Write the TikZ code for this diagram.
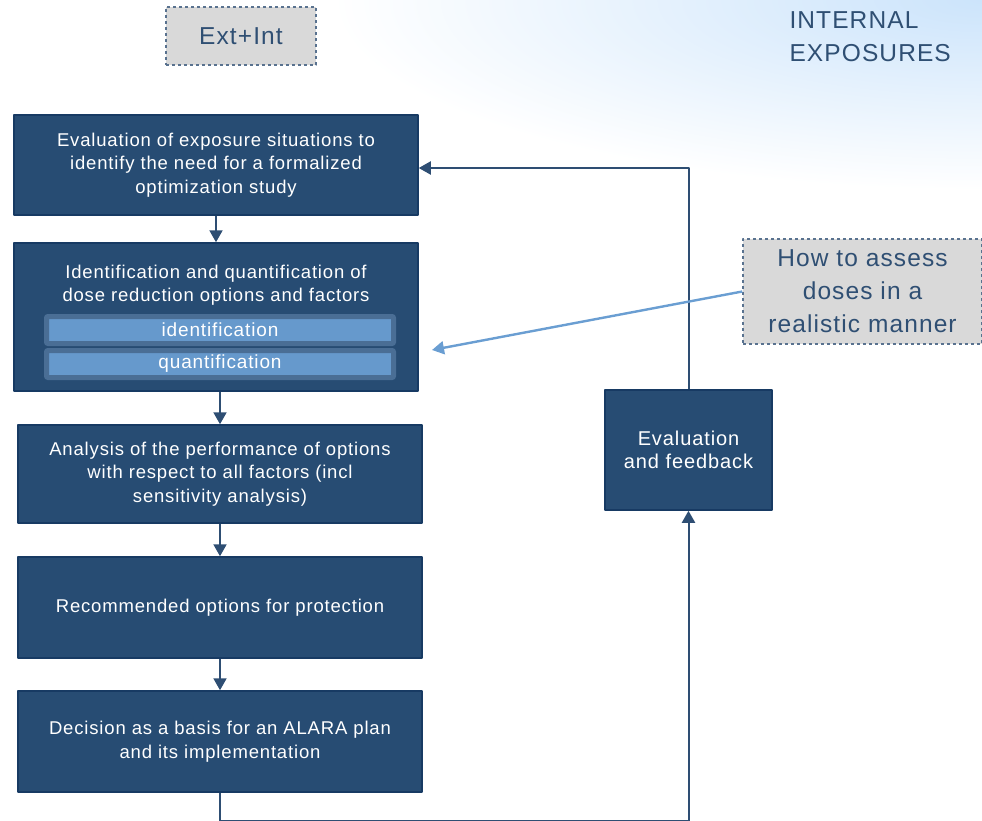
\documentclass[tikz,border=0pt]{standalone}
\usepackage{fontspec}
\setmainfont{Liberation Sans}
\newfontfamily\boxfont[LetterSpace=4.5]{Liberation Sans}
\usetikzlibrary{arrows.meta}
\definecolor{boxblue}{HTML}{274C73}
\definecolor{boxedge}{HTML}{173A63}
\definecolor{notegray}{HTML}{D9D9D9}
\definecolor{notetext}{HTML}{2F4F73}
\definecolor{barblue}{HTML}{6699CC}
\definecolor{barback}{HTML}{4A6E95}
\definecolor{linkblue}{HTML}{6A9ED2}
\definecolor{skyblue}{HTML}{CCE4FB}
\begin{document}
\begin{tikzpicture}[x=1pt,y=-1pt,line join=round,>={Triangle[length=12pt,width=13pt]},
	stage/.style={draw=boxedge,line width=1.5pt,fill=boxblue,text=white,align=center,inner sep=0pt,
		font=\boxfont\fontsize{18.5}{23.5}\selectfont,minimum width=404pt},
	note/.style={draw=notetext!80,dashed,line width=1.5pt,fill=notegray,text=notetext,align=center,inner sep=0pt,
		font=\boxfont\fontsize{24.5}{33}\selectfont},
	bar/.style={draw=barback,line width=5pt,fill=barblue,text=white,rounded corners=1pt,inner sep=0pt,
		minimum width=347pt,minimum height=27pt,font=\boxfont\fontsize{19}{20}\selectfont},
	flow/.style={draw=boxedge!90,line width=2pt,->},
	link/.style={draw=linkblue,line width=2.4pt,->}]
	\useasboundingbox (0,0) rectangle (982,821);
	% background
	\begin{scope}
		\clip (0,0) rectangle (982,821);
		\shade[inner color=skyblue,outer color=white] (982,0) ellipse [x radius=650, y radius=190];
	\end{scope}
	% notes
	\node[note,minimum width=150pt,minimum height=58pt] (extint) at (241,36) {Ext+Int};
	\node[text=notetext,align=left,anchor=west,font=\boxfont\fontsize{24.5}{33}\selectfont] (title) at (786,37) {INTERNAL\\EXPOSURES};
	\node[note,minimum width=239pt,minimum height=105pt] (howto) at (862.5,291.5) {How to assess\\doses in a\\realistic manner};
	% stages
	\node[stage,minimum height=100pt] (b1) at (216,165) {Evaluation of exposure situations to\\identify the need for a formalized\\optimization study};
	\node[stage,minimum height=148pt] (b2) at (216,317) {};
	\node[text=white,align=center,font=\boxfont\fontsize{18.5}{23.5}\selectfont] (b2t) at (216,285) {Identification and quantification of\\dose reduction options and factors};
	\node[bar] (bid) at (220,330) {identification};
	\node[bar] (bqu) at (220,364) {quantification};
	\node[stage,minimum height=98pt] (b3) at (220,474) {Analysis of the performance of options\\with respect to all factors (incl\\sensitivity analysis)};
	\node[stage,minimum height=101pt] (b4) at (220,607.5) {Recommended options for protection};
	\node[stage,minimum height=101pt] (b5) at (220,741.5) {Decision as a basis for an ALARA plan\\and its implementation};
	\node[stage,minimum width=167pt,minimum height=120pt,font=\boxfont\fontsize{20}{23.5}\selectfont] (eval) at (688.5,450) {Evaluation\\and feedback};
	% connectors
	\draw[flow] (b1) -- (b2);
	\draw[flow] (b3.north |- b2.south) -- (b3.north);
	\draw[flow] (b3) -- (b4);
	\draw[flow] (b4) -- (b5);
	\draw[flow] (b5.south) -- ++(0,28) -| (eval.south);
	\draw[flow] (eval.north) |- ([yshift=-3pt]b1.east);
	\coordinate (tip) at (432,350);
	\draw[link] (howto.west) -- (tip);
\end{tikzpicture}
\end{document}
